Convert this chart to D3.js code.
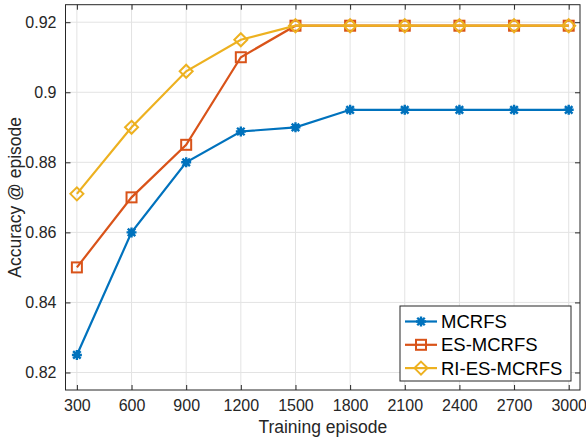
<!DOCTYPE html>
<html>
<head>
<meta charset="utf-8">
<script src="https://cdn.jsdelivr.net/npm/d3@7"></script>
<style>
  body { margin: 0; background: #fff; }
  svg text { font-family: "Liberation Sans", Arial, Helvetica, sans-serif; fill: #262626; }
</style>
</head>
<body>
<svg id="chart" width="586" height="443"></svg>
<script>
// data
const episodes = [300, 600, 900, 1200, 1500, 1800, 2100, 2400, 2700, 3000];
const mcrfs = [0.825, 0.86, 0.88, 0.8888, 0.89, 0.895, 0.895, 0.895, 0.895, 0.895];
const esMcrfs = [0.85, 0.87, 0.885, 0.91, 0.919, 0.919, 0.919, 0.919, 0.919, 0.919];
const riEsMcrfs = [0.871, 0.89, 0.906, 0.915, 0.919, 0.919, 0.919, 0.919, 0.919, 0.919];
const yTicks = [0.82, 0.84, 0.86, 0.88, 0.9, 0.92];
const seriesNames = ["MCRFS", "ES-MCRFS", "RI-ES-MCRFS"];
const colors = ["#0072BD", "#D95319", "#EDB120"];

const svg = d3.select("#chart");
const pLeft = 65.5, pRight = 580, pTop = 4.7, pBottom = 390;

const x = d3.scaleLinear().domain([237.5, 3062]).range([pLeft, pRight]);
const y = d3.scaleLinear().domain([0.815, 0.925]).range([pBottom, pTop]);

// grid
const grid = svg.append("g");
grid.selectAll(".gx").data(episodes).enter().append("line")
    .attr("x1", d => x(d)).attr("x2", d => x(d))
    .attr("y1", pTop).attr("y2", pBottom)
    .style("stroke", "#e3e3e3").style("stroke-width", 1);
grid.selectAll(".gy").data(yTicks).enter().append("line")
    .attr("x1", pLeft).attr("x2", pRight)
    .attr("y1", d => y(d)).attr("y2", d => y(d))
    .style("stroke", "#e3e3e3").style("stroke-width", 1);

// axes (ticks inward, box on)
const tickLen = 5;
const fmtY = d => String(+d.toFixed(2));
svg.append("g").attr("transform", `translate(0,${pBottom})`)
    .call(d3.axisBottom(x).tickValues(episodes).tickFormat(d3.format("d")).tickSizeInner(-tickLen).tickSizeOuter(0).tickPadding(10))
    .call(g => g.select(".domain").remove());
svg.append("g").attr("transform", `translate(0,${pTop})`)
    .call(d3.axisTop(x).tickValues(episodes).tickSizeInner(-tickLen).tickSizeOuter(0).tickFormat(""))
    .call(g => g.select(".domain").remove());
svg.append("g").attr("transform", `translate(${pLeft},0)`)
    .call(d3.axisLeft(y).tickValues(yTicks).tickFormat(fmtY).tickSizeInner(-tickLen).tickSizeOuter(0).tickPadding(9))
    .call(g => g.select(".domain").remove());
svg.append("g").attr("transform", `translate(${pRight},0)`)
    .call(d3.axisRight(y).tickValues(yTicks).tickSizeInner(-tickLen).tickSizeOuter(0).tickFormat(""))
    .call(g => g.select(".domain").remove());

svg.selectAll(".tick line").style("stroke", "#262626");
svg.selectAll(".tick text").style("font-size", "16px").style("fill", "#262626")
    .style("font-family", "'Liberation Sans', Arial, sans-serif");

svg.append("rect")
    .attr("x", pLeft).attr("y", pTop)
    .attr("width", pRight - pLeft).attr("height", pBottom - pTop)
    .style("fill", "none").style("stroke", "#262626").style("stroke-width", 1);

// labels
svg.append("text").attr("x", (pLeft + pRight) / 2).attr("y", 433)
    .attr("text-anchor", "middle").style("font-size", "17.5px").text("Training episode");
svg.append("text").attr("transform", `translate(21,${(pTop + pBottom) / 2}) rotate(-90)`)
    .attr("text-anchor", "middle").style("font-size", "17.5px").text("Accuracy @ episode");

// markers
function drawMarker(g, kind, color) {
    if (kind === 0) {
        const r = 5;
        g.append("path")
            .attr("d", `M${-r},0L${r},0M0,${-r}L0,${r}M${-r*0.75},${-r*0.75}L${r*0.75},${r*0.75}M${-r*0.75},${r*0.75}L${r*0.75},${-r*0.75}`)
            .style("stroke", color).style("stroke-width", 2.4).style("fill", "none");
        g.append("circle").attr("r", 3.2).style("fill", color);
    } else if (kind === 1) {
        g.append("rect").attr("x", -5).attr("y", -5).attr("width", 10).attr("height", 10)
            .style("fill", "none").style("stroke", color).style("stroke-width", 2);
    } else {
        g.append("path").attr("d", "M0,-6.5L6.5,0L0,6.5L-6.5,0Z")
            .style("fill", "none").style("stroke", color).style("stroke-width", 2);
    }
}

const allSeries = [mcrfs, esMcrfs, riEsMcrfs];
const line = d3.line().x((d, i) => x(episodes[i])).y(d => y(d));

allSeries.forEach((vals, k) => {
    const g = svg.append("g");
    g.append("path").datum(vals).attr("d", line)
        .style("fill", "none").style("stroke", colors[k]).style("stroke-width", 2.2);
    vals.forEach((v, i) => {
        drawMarker(g.append("g").attr("transform", `translate(${x(episodes[i])},${y(v)})`), k, colors[k]);
    });
});

// legend
const legend = svg.append("g");
legend.append("rect").attr("x", 400).attr("y", 306).attr("width", 171).attr("height", 75)
    .style("fill", "#fff").style("stroke", "#262626").style("stroke-width", 1);
seriesNames.forEach((name, k) => {
    const ly = 321.5 + k * 23.3;
    legend.append("line").attr("x1", 405).attr("x2", 437).attr("y1", ly).attr("y2", ly)
        .style("stroke", colors[k]).style("stroke-width", 2.2);
    drawMarker(legend.append("g").attr("transform", `translate(421,${ly})`), k, colors[k]);
    legend.append("text").attr("x", 441).attr("y", ly + 6.5)
        .style("font-size", "18.5px").style("fill", "#000").text(name);
});
</script>
</body>
</html>
